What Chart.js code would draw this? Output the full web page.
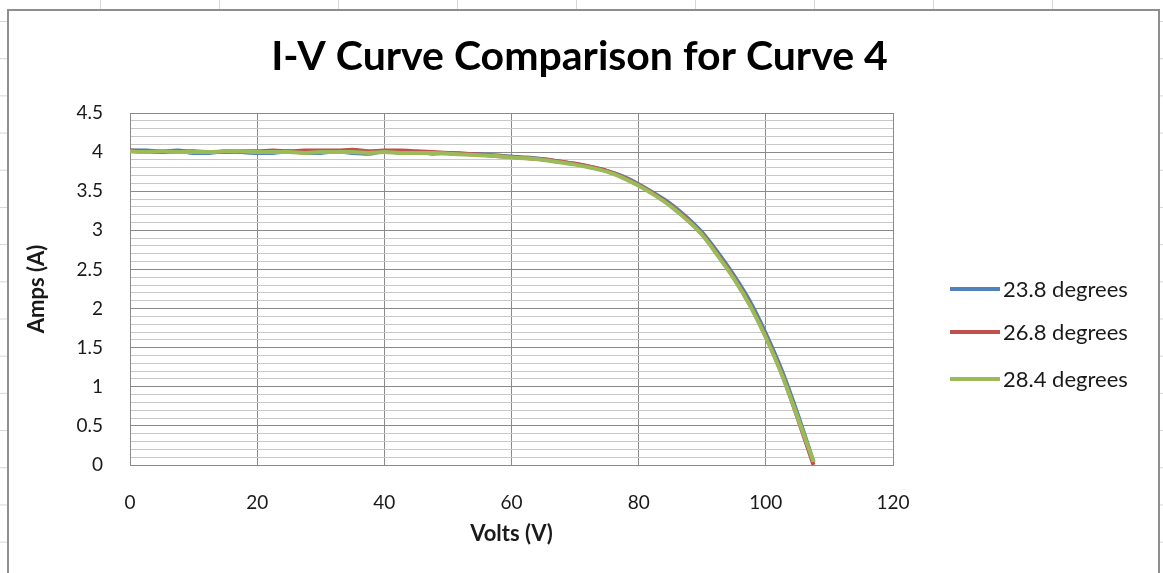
<!DOCTYPE html>
<html>
<head>
<meta charset="utf-8">
<title>I-V Curve Comparison</title>
<script src="https://cdn.jsdelivr.net/npm/chart.js@4/dist/chart.umd.min.js"></script>
<style>
  html, body {
    margin: 0;
    width: 1163px;
    height: 573px;
    overflow: hidden;
    background-color: #fff;
    /* sheet cell lines behind the chart object */
    background-image:
      linear-gradient(to right, #d6d6d6 0 1px, transparent 1px),
      linear-gradient(to bottom, #d6d6d6 0 1px, transparent 1px);
    background-size: 119px 100%, 100% 37.2px;
    background-position: 100px 0, 0 21px;
  }
  #frame {
    position: absolute;
    left: 7px;
    top: 9px;
    width: 1149px;
    height: 564px;
    border: 2px solid #8e8e8e;
    border-bottom: none;
    background: #fff;
  }
  #frame canvas { display: block; }
</style>
</head>
<body>
<div id="frame"><canvas id="ivChart" width="1149" height="562"></canvas></div>
<script>
// ── Data ──────────────────────────────────────
const volts = [
  0, 2.5, 5, 7.5, 10, 12.5, 15, 17.5, 20, 22.5,
  25, 27.5, 30, 32.5, 35, 37.5, 40, 42.5, 45, 47.5,
  50, 52.5, 55, 57.5, 60, 62.5, 65, 67.5, 70, 72.5,
  75, 77.5, 80, 82.5, 85, 87.5, 90, 92.5, 95, 97.5,
  100, 102.5, 105, 107.5
];

const amps238 = [
  4.02, 4.02, 4.01, 4.02, 3.99, 3.99, 4.01, 4.00, 3.99, 3.99,
  4.01, 3.99, 3.99, 4.01, 3.99, 3.98, 4.01, 3.99, 4.00, 3.98,
  3.99, 3.98, 3.97, 3.96, 3.94, 3.93, 3.91, 3.88, 3.85, 3.81,
  3.76, 3.69, 3.59, 3.47, 3.34, 3.17, 2.97, 2.71, 2.42, 2.09,
  1.68, 1.21, 0.65, 0.04
];

const amps268 = [
  4.02, 4.01, 4.00, 4.01, 4.01, 4.00, 4.00, 4.01, 4.01, 4.02,
  4.01, 4.02, 4.02, 4.02, 4.03, 4.01, 4.02, 4.02, 4.01, 4.00,
  3.99, 3.98, 3.97, 3.95, 3.94, 3.92, 3.91, 3.88, 3.85, 3.81,
  3.76, 3.68, 3.58, 3.46, 3.32, 3.15, 2.95, 2.68, 2.39, 2.05,
  1.64, 1.17, 0.60, 0.00
];

const amps284 = [
  4.01, 4.00, 4.01, 4.00, 4.00, 4.00, 4.01, 4.01, 4.00, 4.00,
  4.00, 3.99, 4.00, 4.00, 4.00, 3.99, 4.00, 3.99, 3.99, 3.99,
  3.98, 3.97, 3.96, 3.95, 3.93, 3.92, 3.90, 3.87, 3.84, 3.80,
  3.75, 3.67, 3.57, 3.45, 3.31, 3.14, 2.94, 2.67, 2.38, 2.04,
  1.63, 1.16, 0.61, 0.04
];

const seriesLabels = ['23.8 degrees', '26.8 degrees', '28.4 degrees'];
const seriesColors = ['#4f81bd', '#c0504d', '#9bbb59'];
const chartTitle   = 'I-V Curve Comparison for Curve 4';

// ── Styles ────────────────────────────────────
const FONT       = 'Lato, "Open Sans", sans-serif';
const TEXT       = '#1a1a1a';
const GRID_MAJOR = '#8a8a8a';
const GRID_MINOR = '#c8c8c8';

// y gridlines every 0.1, labelled every 0.5
function isMajor(v) {
  return Math.round(v * 10) % 5 === 0;
}

function makeSeries(i, amps) {
  return {
    label: seriesLabels[i],
    data: volts.map((v, k) => ({ x: v, y: amps[k] })),
    borderColor: seriesColors[i],
    backgroundColor: seriesColors[i],
    borderWidth: 4,
    pointRadius: 0,
    cubicInterpolationMode: 'monotone',
    order: 2 - i,
  };
}

// ── Title + legend, drawn outside the plot ────
const chartDecor = {
  id: 'chartDecor',
  afterDraw(chart) {
    const ctx = chart.ctx;
    ctx.save();

    // title, centred on the whole frame
    ctx.font = 'bold 41px ' + FONT;
    ctx.fillStyle = '#000';
    ctx.textAlign = 'center';
    ctx.textBaseline = 'middle';
    ctx.fillText(chartTitle, chart.width / 2 - 4, 46);

    // legend to the right of the plot
    const x0 = chart.chartArea.right + 57;
    const rows = [278, 321, 368];
    ctx.font = '22px ' + FONT;
    ctx.textAlign = 'left';
    ctx.fillStyle = TEXT;
    seriesLabels.forEach((label, i) => {
      ctx.strokeStyle = seriesColors[i];
      ctx.lineWidth = 4;
      ctx.beginPath();
      ctx.moveTo(x0, rows[i]);
      ctx.lineTo(x0 + 50, rows[i]);
      ctx.stroke();
      ctx.fillText(label, x0 + 53, rows[i] + 1);
    });
    ctx.restore();
  }
};

// ── Chart ─────────────────────────────────────
new Chart(document.getElementById('ivChart'), {
  type: 'line',
  data: {
    datasets: [
      makeSeries(0, amps238),
      makeSeries(1, amps268),
      makeSeries(2, amps284),
    ],
  },
  options: {
    responsive: false,
    animation: false,
    layout: { padding: { left: 10, right: 265, top: 102, bottom: 8 } },
    plugins: {
      legend: { display: false },
      tooltip: { enabled: false },
      title: { display: false },
    },
    scales: {
      x: {
        type: 'linear',
        min: 0,
        max: 120,
        ticks: {
          stepSize: 20,
          padding: 26,
          color: TEXT,
          font: { family: FONT, size: 19 },
        },
        grid: { color: GRID_MAJOR, drawTicks: false },
        border: { color: GRID_MAJOR },
        title: {
          display: true,
          text: 'Volts (V)',
          color: TEXT,
          font: { family: FONT, size: 22, weight: 'bold' },
          padding: 18,
        },
        afterFit(scale) { scale.height = 100; },
      },
      y: {
        min: 0,
        max: 4.5,
        ticks: {
          stepSize: 0.1,
          autoSkip: false,
          maxTicksLimit: 100,
          padding: 27,
          color: TEXT,
          font: { family: FONT, size: 19 },
          callback: v => isMajor(v) ? String(Math.round(v * 10) / 10) : '',
        },
        grid: {
          drawTicks: false,
          color: c => (c.tick && isMajor(c.tick.value)) ? GRID_MAJOR : GRID_MINOR,
        },
        border: { color: GRID_MAJOR },
        title: {
          display: true,
          text: 'Amps (A)',
          color: TEXT,
          font: { family: FONT, size: 22, weight: 'bold' },
          padding: 5,
        },
        afterFit(scale) { scale.width = 111; },
      },
    },
  },
  plugins: [chartDecor],
});
</script>
</body>
</html>
